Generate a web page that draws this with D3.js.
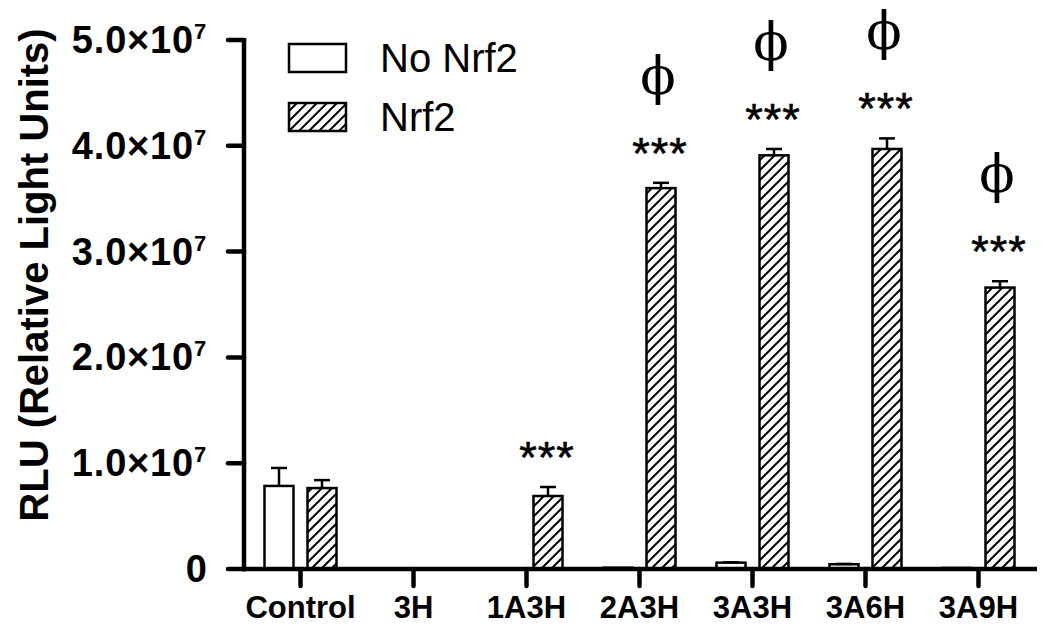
<!DOCTYPE html>
<html><head><meta charset="utf-8">
<script src="https://cdn.jsdelivr.net/npm/d3@7"></script>
<style>body{margin:0;background:#fff}svg{display:block}</style>
</head><body>
<script>
const categories = ["Control","3H","1A3H","2A3H","3A3H","3A6H","3A9H"];
const seriesNames = ["No Nrf2","Nrf2"];
const noNrf2 = [7.85e6, 0, 0, 1.2e5, 6.0e5, 4.5e5, 1.0e5];
const noNrf2Err = [1.7e6, 0, 0, 0, 0.4e5, 0.3e5, 0];
const nrf2 = [7.65e6, 0, 6.9e6, 3.60e7, 3.91e7, 3.97e7, 2.66e7];
const nrf2Err = [0.75e6, 0, 0.85e6, 0.5e6, 0.6e6, 1.0e6, 0.6e6];
const stars = ["", "", "***", "***", "***", "***", "***"];
const phiMarks = [false, false, false, true, true, true, true];
const yTicks = [0, 1e7, 2e7, 3e7, 4e7, 5e7];
const yTickMantissa = ["0", "1.0", "2.0", "3.0", "4.0", "5.0"];

const W = 1050, H = 644;
const svg = d3.select("body").append("svg").attr("width", W).attr("height", H);
const defs = svg.append("defs");
const pat = defs.append("pattern").attr("id","hatch").attr("patternUnits","userSpaceOnUse")
  .attr("width",10).attr("height",10);
pat.append("rect").attr("width",10).attr("height",10).attr("fill","#fff");
pat.append("path").attr("d","M-2,2 L2,-2 M0,10 L10,0 M8,12 L12,8").attr("stroke","#000").attr("stroke-width",2);

const x = d3.scaleBand().domain(categories).range([244, 1035]).padding(0);
const y = d3.scaleLinear().domain([0, 5e7]).range([569, 40]);
const barW = 29, off = 21.5;
const sans = "Liberation Sans, Arial, sans-serif";

const series = [
  {vals: noNrf2, err: noNrf2Err, dx: -off, fill: "#fff"},
  {vals: nrf2, err: nrf2Err, dx: off, fill: "url(#hatch)"}
];

const g = svg.append("g");
series.forEach(s => {
  categories.forEach((c, i) => {
    const v = s.vals[i];
    if (v <= 0) return;
    const cx = x(c) + x.bandwidth()/2 + s.dx;
    g.append("rect").attr("x", cx - barW/2).attr("y", y(v)).attr("width", barW)
      .attr("height", y(0) - y(v)).attr("fill", s.fill).attr("stroke", "#000").attr("stroke-width", 2.5);
    const e = s.err[i];
    if (e > 0) {
      g.append("line").attr("x1", cx).attr("x2", cx).attr("y1", y(v)).attr("y2", y(v+e))
        .attr("stroke","#000").attr("stroke-width",2.5);
      g.append("line").attr("x1", cx-8).attr("x2", cx+8).attr("y1", y(v+e)).attr("y2", y(v+e))
        .attr("stroke","#000").attr("stroke-width",2.5);
    }
  });
});

// annotations
categories.forEach((c, i) => {
  const cx = x(c) + x.bandwidth()/2 + off;
  const top = y(nrf2[i] + nrf2Err[i]);
  if (stars[i]) {
    svg.append("text").attr("x", cx - 1).attr("y", top - 14).attr("text-anchor","middle")
      .attr("font-family", sans).attr("font-size", 45).attr("letter-spacing", 1)
      .attr("stroke","#000").attr("stroke-width",0.6)
      .text(stars[i]);
  }
  if (phiMarks[i]) {
    svg.append("text").attr("x", cx - 3).attr("y", top - 89).attr("text-anchor","middle")
      .attr("font-family","DejaVu Serif, serif").attr("font-size", 52)
      .text("ϕ");
  }
});

// axes
const axisW = 4.5;
svg.append("line").attr("x1",244).attr("x2",244).attr("y1",y(5e7)-2).attr("y2",y(0)+axisW/2)
  .attr("stroke","#000").attr("stroke-width",axisW);
svg.append("line").attr("x1",244-axisW/2).attr("x2",1037).attr("y1",y(0)).attr("y2",y(0))
  .attr("stroke","#000").attr("stroke-width",axisW);
yTicks.forEach((t, i) => {
  svg.append("line").attr("x1",228).attr("x2",244).attr("y1",y(t)).attr("y2",y(t))
    .attr("stroke","#000").attr("stroke-width",axisW).attr("stroke-linecap","round");
  const tx = svg.append("text").attr("x", 207).attr("y", y(t) + 13).attr("text-anchor","end")
    .attr("font-family", sans).attr("font-weight","bold")
    .attr("font-size", 38).attr("letter-spacing", i === 0 ? 0 : 0.8);
  if (t === 0) {
    tx.text("0");
  } else {
    tx.append("tspan").text(yTickMantissa[i] + "×10");
    tx.append("tspan").attr("font-size", 22).attr("dy", -14).text("7");
  }
});
categories.forEach(c => {
  const cx = x(c) + x.bandwidth()/2;
  svg.append("line").attr("x1",cx).attr("x2",cx).attr("y1",y(0)).attr("y2",586)
    .attr("stroke","#000").attr("stroke-width",axisW).attr("stroke-linecap","round");
  svg.append("text").attr("x", cx).attr("y", 618).attr("text-anchor","middle")
    .attr("font-family", sans).attr("font-weight","bold")
    .attr("font-size", 31).text(c);
});

// y title
svg.append("text").attr("transform","translate(48,275) rotate(-90)").attr("text-anchor","middle")
  .attr("font-family", sans).attr("font-weight","bold")
  .attr("font-size", 40).text("RLU (Relative Light Units)");

// legend
const leg = svg.append("g");
const legFills = ["#fff", "url(#hatch)"];
seriesNames.forEach((n, i) => {
  const ly = 44 + i * 59;
  leg.append("rect").attr("x", 289).attr("y", ly).attr("width", 57).attr("height", 28)
    .attr("fill", legFills[i]).attr("stroke","#000").attr("stroke-width",2.5);
  leg.append("text").attr("x", 380).attr("y", ly + 28).attr("font-family", sans)
    .attr("font-size", 40).text(n);
});
</script>
</body></html>
